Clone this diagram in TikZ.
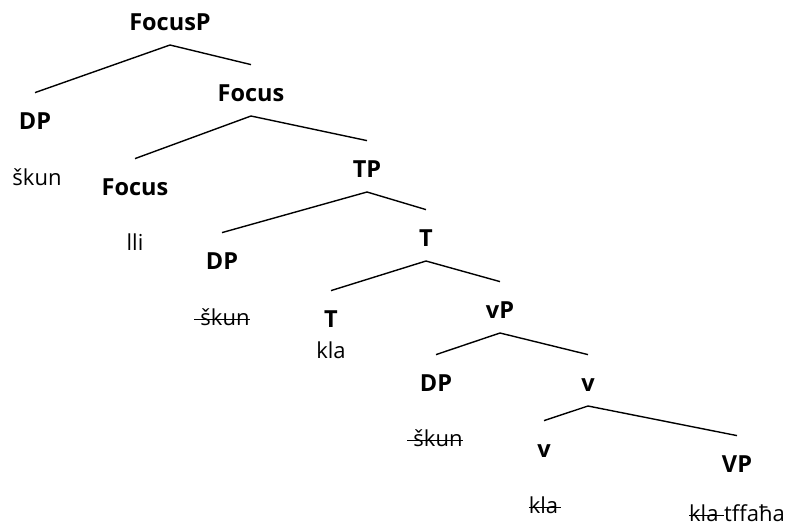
\documentclass[tikz,border=0pt]{standalone}
\usepackage{fontspec}
\setmainfont{Open Sans}
\newcommand\struck[1]{\setbox0\hbox{#1}\rlap{\rule[0.24em]{\wd0}{1.2pt}}\box0}

\begin{document}
\begin{tikzpicture}[x=1pt,y=-1pt,
        cat/.style={font=\fontsize{23.5}{28}\selectfont\bfseries,inner sep=0pt,text height=16pt,text depth=0pt,anchor=south},
        word/.style={font=\fontsize{22}{26}\selectfont,inner sep=0pt,anchor=base},
        branch/.style={line width=1.4pt}]
        % \draw[help lines] grid(787,531);
        \useasboundingbox (0,0) rectangle (787,531);

        \node[cat] (FocusP) at (170,31) {FocusP};
        \node[cat] (DPa) at (35,130) {DP};
        \node[cat] (Focusbar) at (251,102) {Focus};
        \node[cat] (Focus) at (135,196) {Focus};
        \node[cat] (TP) at (367,178) {TP};
        \node[cat] (DPb) at (222,270) {DP};
        \node[cat] (Tbar) at (426,247) {T};
        \node[cat] (T) at (331,328) {T};
        \node[cat] (vP) at (500,319) {vP};
        \node[cat] (DPc) at (436,392) {DP};
        \node[cat] (vbar) at (588,392) {v};
        \node[cat] (v) at (544,458) {v};
        \node[cat] (VP) at (737,473) {VP};

        \node[word] (skuna) at (37,185) {škun};
        \node[word] (lli) at (135,250) {lli};
        \node[word] (skunb) at (222,325) {\struck{\kern6pt škun}};
        \node[word] (kla) at (331,358) {kla};
        \node[word] (skunc) at (435,446) {\struck{\kern6pt škun}};
        \node[word] (klab) at (545,513) {\struck{kla\kern3pt}};
        \node[word] (tffaha) at (737,521) {\struck{kla\ }tffaħa};

        \draw[branch] ([yshift=-14pt]FocusP.south) -- ([yshift=21pt]DPa.north);
        \draw[branch] ([yshift=-14pt]FocusP.south) -- ([yshift=21pt]Focusbar.north);
        \draw[branch] ([yshift=-14pt]Focusbar.south) -- ([yshift=21pt]Focus.north);
        \draw[branch] ([yshift=-14pt]Focusbar.south) -- ([yshift=21pt]TP.north);
        \draw[branch] ([yshift=-14pt]TP.south) -- ([yshift=21pt]DPb.north);
        \draw[branch] ([yshift=-14pt]TP.south) -- ([yshift=21pt]Tbar.north);
        \draw[branch] ([yshift=-14pt]Tbar.south) -- ([yshift=21pt]T.north);
        \draw[branch] ([yshift=-14pt]Tbar.south) -- ([yshift=21pt]vP.north);
        \draw[branch] ([yshift=-14pt]vP.south) -- ([yshift=21pt]DPc.north);
        \draw[branch] ([yshift=-14pt]vP.south) -- ([yshift=21pt]vbar.north);
        \draw[branch] ([yshift=-14pt]vbar.south) -- ([yshift=21pt]v.north);
        \draw[branch] ([yshift=-14pt]vbar.south) -- ([yshift=21pt]VP.north);
\end{tikzpicture}
\end{document}
